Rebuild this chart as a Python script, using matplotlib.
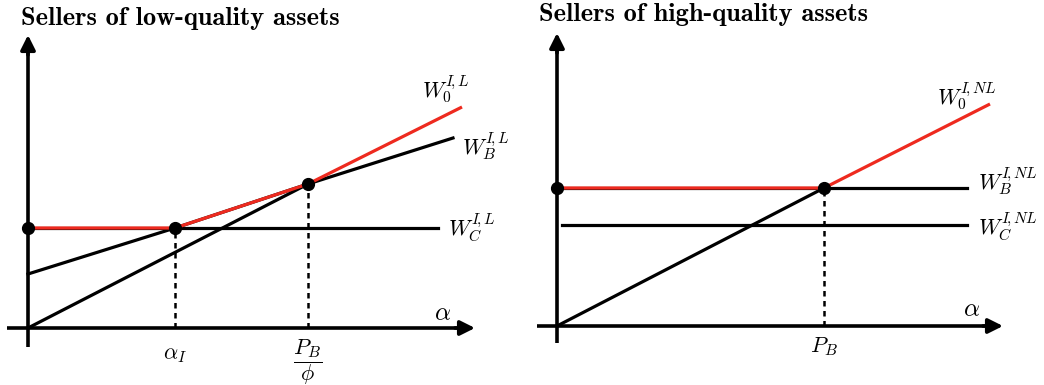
import numpy as np
import matplotlib.pyplot as plt

plt.rcParams['mathtext.fontset'] = 'cm'

RED = '#ee2a1f'

# left panel: sellers of low-quality assets
alpha_I = 1.47
pb_phi = 2.80
wc_low = 1.00
wb_low_x = [0, alpha_I, pb_phi, 4.25]
wb_low_y = [0.54, 1.00, 1.44, 1.90]
line_low_x = [0, pb_phi]
line_low_y = [0, 1.44]
w0_low_x = [0, alpha_I, pb_phi, 4.34]
w0_low_y = [1.00, 1.00, 1.44, 2.21]
wc_low_x = [0, 4.10]

# right panel: sellers of high-quality assets
p_b = 2.67
wb_high = 1.38
wc_high = 1.01
wb_high_x = [0, 4.10]
wc_high_x = [0.05, 4.10]
line_high_x = [0, p_b]
line_high_y = [0, 1.38]
w0_high_x = [0, p_b, 4.33]
w0_high_y = [1.38, 1.38, 2.22]

W, H = 1044, 385
fig = plt.figure(figsize=(W / 100, H / 100), dpi=100)


def axes_at(x0, wpx, ox, oy):
    # axes covering pixels [x0, x0+wpx] x full height, 1 data unit = 100 px
    ax = fig.add_axes([x0 / W, 0, wpx / W, 1])
    ax.set_xlim(-(ox - x0) / 100, (x0 + wpx - ox) / 100)
    ax.set_ylim(-(H - oy) / 100, oy / 100)
    ax.axis('off')
    return ax


def draw_axes(ax, xmin, xmax, ymin, ymax):
    ax.plot([0, 0], [ymin, ymax - 0.1], c='k', lw=2.6, solid_capstyle='butt')
    ax.plot([xmin, xmax - 0.1], [0, 0], c='k', lw=2.6, solid_capstyle='butt')
    ax.annotate('', xy=(0, ymax), xytext=(0, ymax - 0.2),
                arrowprops=dict(arrowstyle='-|>', color='k', lw=2.6,
                                mutation_scale=22, shrinkA=0, shrinkB=0))
    ax.annotate('', xy=(xmax, 0), xytext=(xmax - 0.2, 0),
                arrowprops=dict(arrowstyle='-|>', color='k', lw=2.6,
                                mutation_scale=22, shrinkA=0, shrinkB=0))


lw = 2.3
fs = 16

# ---- left
ax = axes_at(0, 520, 28, 328)
draw_axes(ax, -0.21, 4.47, -0.19, 2.93)
ax.plot(wc_low_x, [wc_low, wc_low], c='k', lw=lw)
ax.plot(wb_low_x, wb_low_y, c='k', lw=lw)
ax.plot(line_low_x, line_low_y, c='k', lw=lw)
ax.plot(w0_low_x, w0_low_y, c=RED, lw=lw, solid_capstyle='butt')
ax.plot([alpha_I, alpha_I], [0, wc_low], c='k', lw=1.8, ls=(0, (2.2, 1.8)))
ax.plot([pb_phi, pb_phi], [0, 1.44], c='k', lw=1.8, ls=(0, (2.2, 1.8)))
ax.plot([0, alpha_I, pb_phi], [wc_low, wc_low, 1.44], 'o', c='k', ms=8.5)
ax.text(4.18, 2.38, r'$W_0^{I\!,L}$', fontsize=fs, ha='center', va='center')
ax.text(4.58, 1.81, r'$W_B^{I\!,L}$', fontsize=fs, ha='center', va='center')
ax.text(4.44, 1.00, r'$W_C^{I\!,L}$', fontsize=fs, ha='center', va='center')
ax.text(4.15, 0.15, r'$\alpha$', fontsize=fs + 2, ha='center', va='center')
ax.text(alpha_I, -0.27, r'$\alpha_I$', fontsize=fs, ha='center', va='center')
ax.text(pb_phi, -0.34, r'$\dfrac{P_B}{\phi}$', fontsize=fs, ha='center', va='center')

# ---- right
ax = axes_at(520, 524, 557, 326)
draw_axes(ax, -0.20, 4.46, -0.17, 2.93)
ax.plot(wb_high_x, [wb_high, wb_high], c='k', lw=lw)
ax.plot(wc_high_x, [wc_high, wc_high], c='k', lw=lw)
ax.plot(line_high_x, line_high_y, c='k', lw=lw)
ax.plot(w0_high_x, w0_high_y, c=RED, lw=lw, solid_capstyle='butt')
ax.plot([p_b, p_b], [0, wb_high], c='k', lw=1.8, ls=(0, (2.2, 1.8)))
ax.plot([0, p_b], [wb_high, wb_high], 'o', c='k', ms=8.5)
ax.text(4.10, 2.29, r'$W_0^{I\!,NL}$', fontsize=fs, ha='center', va='center')
ax.text(4.51, 1.44, r'$W_B^{I\!,NL}$', fontsize=fs, ha='center', va='center')
ax.text(4.51, 0.99, r'$W_C^{I\!,NL}$', fontsize=fs, ha='center', va='center')
ax.text(4.15, 0.17, r'$\alpha$', fontsize=fs + 2, ha='center', va='center')
ax.text(p_b, -0.21, r'$P_B$', fontsize=fs, ha='center', va='center')

fig.text(21 / W, 1 - 18 / H, 'Sellers of low-quality assets', fontsize=19,
         family=['cmb10', 'DejaVu Serif'], fontweight='bold', va='center', ha='left')
fig.text(539 / W, 1 - 15 / H, 'Sellers of high-quality assets', fontsize=19,
         family=['cmb10', 'DejaVu Serif'], fontweight='bold', va='center', ha='left')

fig.savefig('out.png', dpi=100)
